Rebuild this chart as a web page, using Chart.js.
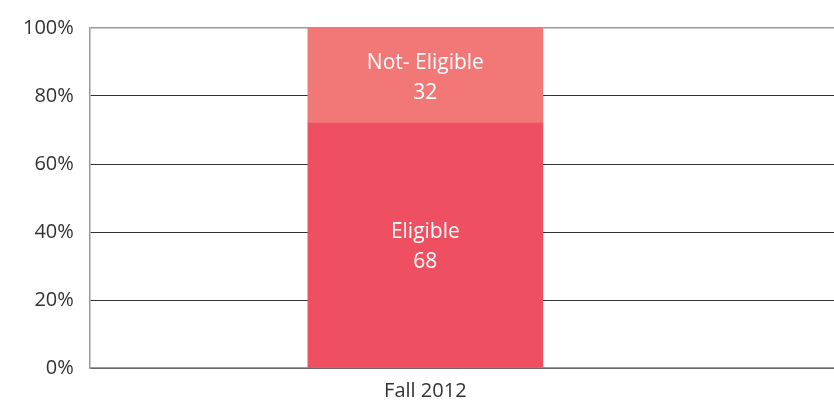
<!DOCTYPE html>
<html>
<head>
<meta charset="utf-8">
<script src="https://cdn.jsdelivr.net/npm/chart.js@4"></script>
<style>
  html, body { margin: 0; padding: 0; background: #fff; }
  #wrap { width: 834px; height: 403px; }
</style>
</head>
<body>
<div id="wrap"><canvas id="barChart" width="834" height="403"></canvas></div>
<script>
// categories and series
const categories = ['Fall 2012'];
const seriesNames = ['Eligible', 'Not- Eligible'];
const eligibleValues = [72];      // bar height as drawn
const notEligibleValues = [28];
const eligibleLabels = [68];      // numbers printed in the bars
const notEligibleLabels = [32];
const yTicks = [0, 20, 40, 60, 80, 100];

// bar text plugin
const barText = {
  id: 'barText',
  afterDatasetsDraw(chart) {
    const ctx = chart.ctx;
    const printed = [eligibleLabels, notEligibleLabels];
    ctx.save();
    ctx.fillStyle = '#ffffff';
    ctx.font = '21px "Open Sans", sans-serif';
    ctx.textAlign = 'center';
    ctx.textBaseline = 'middle';
    chart.data.datasets.forEach(function(ds, i) {
      chart.getDatasetMeta(i).data.forEach(function(bar, j) {
        const mid = (bar.y + bar.base) / 2;
        ctx.fillText(ds.label, bar.x, mid - 13);
        ctx.fillText(String(printed[i][j]), bar.x, mid + 17);
      });
    });
    ctx.restore();
  }
};

const ctx = document.getElementById('barChart').getContext('2d');

new Chart(ctx, {
  type: 'bar',
  data: {
    datasets: [{
      label: seriesNames[0],
      data: eligibleValues.map(function(v, i) { return { x: i, y: v }; }),
      backgroundColor: '#EF5061'
    }, {
      label: seriesNames[1],
      data: notEligibleValues.map(function(v, i) { return { x: i, y: v }; }),
      backgroundColor: '#F27877'
    }]
  },
  options: {
    responsive: false,
    animation: false,
    layout: { padding: { top: 15, right: 0, left: 7, bottom: 0 } },
    datasets: { bar: { barThickness: 235 } },
    plugins: {
      legend: { display: false },
      tooltip: { enabled: false }
    },
    scales: {
      x: {
        type: 'linear',
        stacked: true,
        offset: false,
        min: -1,
        max: 1.218,
        afterBuildTicks: function(axis) {
          axis.ticks = categories.map(function(c, i) { return { value: i }; });
        },
        afterFit: function(axis) { axis.height = 35; },
        ticks: {
          callback: function(v) { return categories[v]; },
          maxRotation: 0,
          color: '#333',
          font: { family: '"Open Sans", sans-serif', size: 20 },
          padding: 11
        },
        grid: { display: false, drawTicks: false },
        border: { color: '#999', width: 1.5 }
      },
      y: {
        stacked: true,
        min: 0,
        max: 100,
        afterBuildTicks: function(axis) {
          axis.ticks = yTicks.map(function(v) { return { value: v }; });
        },
        ticks: {
          callback: function(v) { return v + '%'; },
          color: '#333',
          font: { family: '"Open Sans", sans-serif', size: 20 },
          padding: 16
        },
        grid: {
          drawTicks: false,
          color: function(c) { return c.tick && c.tick.value === 100 ? '#999' : '#333'; },
          lineWidth: function(c) { return c.tick && c.tick.value === 100 ? 1.5 : 1; }
        },
        border: { color: '#999', width: 1.5 }
      }
    }
  },
  plugins: [barText]
});
</script>
</body>
</html>
